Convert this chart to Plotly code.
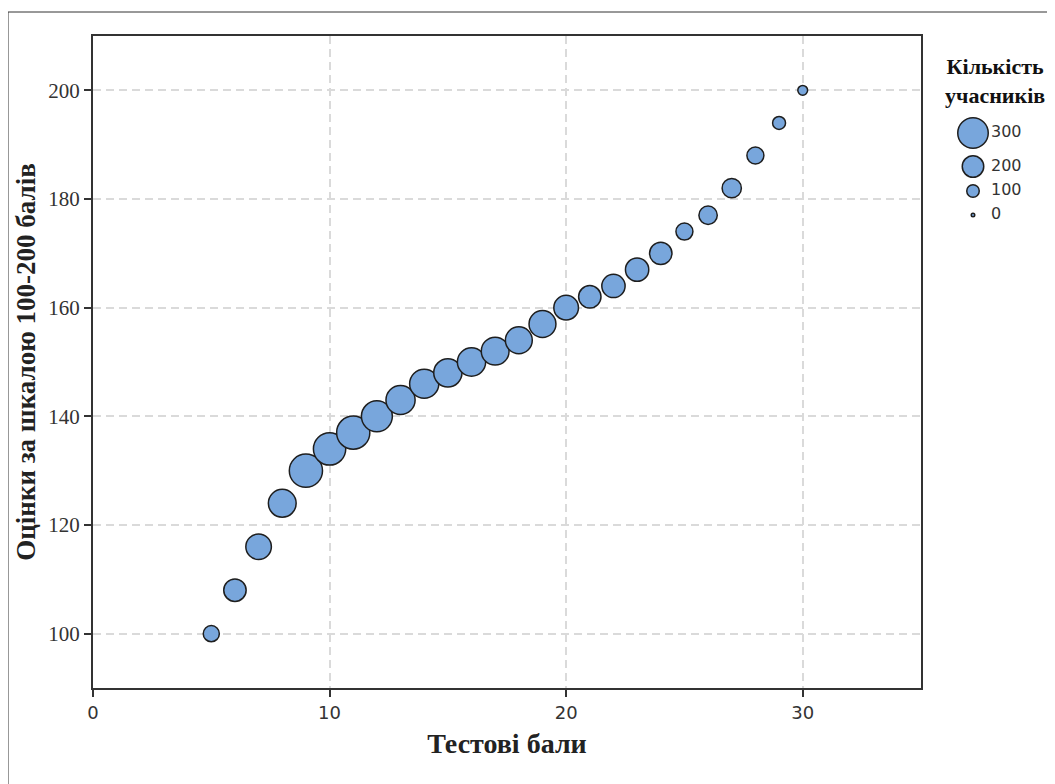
import plotly.graph_objects as go

# ---- data ----
test_scores = [5, 6, 7, 8, 9, 10, 11, 12, 13, 14, 15, 16, 17, 18, 19, 20,
               21, 22, 23, 24, 25, 26, 27, 28, 29, 30]
scaled_scores = [100, 108, 116, 124, 130, 134, 137, 140, 143, 146, 148, 150, 152, 154, 157, 160,
                 162, 164, 167, 170, 174, 177, 182, 188, 194, 200]
participants = [140, 210, 245, 270, 330, 320, 330, 305, 285, 285, 275, 275, 270, 260, 260, 235,
                210, 220, 220, 210, 150, 165, 175, 150, 105, 70]

legend_values = [300, 200, 100, 0]
legend_labels = ["300", "200", "100", "0"]
x_ticks = [0, 10, 20, 30]
y_ticks = [100, 120, 140, 160, 180, 200]

x_title = "Тестові бали"
y_title = "Оцінки за шкалою 100-200 балів"
legend_title = "Кількість<br>учасників"

FILL = "#78A6DC"
EDGE = "#1e1e1e"
LW = 1.5


def diam(c):
    return 3.5 + 0.09 * c


# ---- layout geometry (screen pixels; page body has an 8px margin) ----
SW, SH = 1055, 784
OX, OY = 8, 8
W, H = SW - OX, SH - OY
plot_left, plot_right, plot_top, plot_bottom = 93, 921, 36, 688
ML = plot_left - OX
MT = plot_top - OY
MR = 5
MB = H - (plot_bottom - OY)
PW = W - ML - MR
PH = H - MT - MB


def px_x(x):
    return (x - plot_left) / PW


def px_y(y):
    return (plot_bottom - y) / PH


fig = go.Figure()

fig.add_trace(go.Scatter(
    x=test_scores, y=scaled_scores, mode="markers",
    marker=dict(size=[diam(c) for c in participants], sizemode="diameter",
                color=FILL, line=dict(color=EDGE, width=LW), opacity=1),
    showlegend=False, hoverinfo="x+y+text", text=[str(c) for c in participants],
))

# legend drawn on auxiliary axes (1 unit = 1 px)
leg_d = [diam(v) for v in legend_values]
leg_y = [18.0]
for i in range(1, len(leg_d)):
    step = max((leg_d[i - 1] + leg_d[i]) / 2 + LW + 6, 24)
    leg_y.append(leg_y[-1] + step)

fig.add_trace(go.Scatter(
    x=[33] * len(legend_values), y=leg_y, mode="markers",
    marker=dict(size=leg_d, sizemode="diameter", color=FILL, opacity=1,
                line=dict(color=EDGE, width=LW)),
    xaxis="x2", yaxis="y2", showlegend=False, hoverinfo="skip",
))
fig.add_trace(go.Scatter(
    x=[51] * len(legend_values), y=leg_y, mode="text", text=legend_labels,
    textposition="middle right",
    textfont=dict(family="DejaVu Sans", size=16, color="#333333"),
    xaxis="x2", yaxis="y2", showlegend=False, hoverinfo="skip",
))

axis_common = dict(
    showline=True, linecolor="#333333", linewidth=2, mirror=True,
    ticks="outside", ticklen=7, tickwidth=2, tickcolor="#333333",
    showgrid=True, gridcolor="#dadada", gridwidth=1.5, griddash="8px,5px",
    zeroline=False,
)

fig.update_layout(
    width=W, height=H,
    margin=dict(l=ML, r=MR, t=MT, b=MB),
    paper_bgcolor="white", plot_bgcolor="white",
    xaxis=dict(
        range=[0, 35], domain=[0, px_x(plot_right)], tickvals=x_ticks,
        tickfont=dict(family="DejaVu Sans", size=18, color="#333333"),
        title=dict(text="<b>" + x_title + "</b>", standoff=12,
                   font=dict(family="Liberation Serif", size=28, color="#222222")),
        **axis_common,
    ),
    yaxis=dict(
        range=[90, 210], tickvals=y_ticks,
        tickfont=dict(family="Liberation Serif", size=21, color="#333333"),
        title=dict(text="<b>" + y_title + "</b>", standoff=5,
                   font=dict(family="Liberation Serif", size=27, color="#222222")),
        **axis_common,
    ),
    xaxis2=dict(domain=[px_x(940), px_x(1050)], range=[0, 110], visible=False,
                anchor="y2", fixedrange=True),
    yaxis2=dict(domain=[px_y(230), px_y(115)], range=[115, 0], visible=False,
                anchor="x2", fixedrange=True),
    annotations=[dict(
        text="<b>" + legend_title + "</b>", xref="paper", yref="paper",
        x=px_x(995), y=px_y(81), xanchor="center", yanchor="middle",
        showarrow=False, align="center",
        font=dict(family="Liberation Serif", size=22, color="#111111"),
    )],
    shapes=[dict(
        type="rect", xref="paper", yref="paper",
        x0=px_x(8), y0=px_y(SH + 40), x1=px_x(SW + 40), y1=px_y(12),
        line=dict(color="#333333", width=1), layer="below",
    )],
)

fig.write_html("out.html")
